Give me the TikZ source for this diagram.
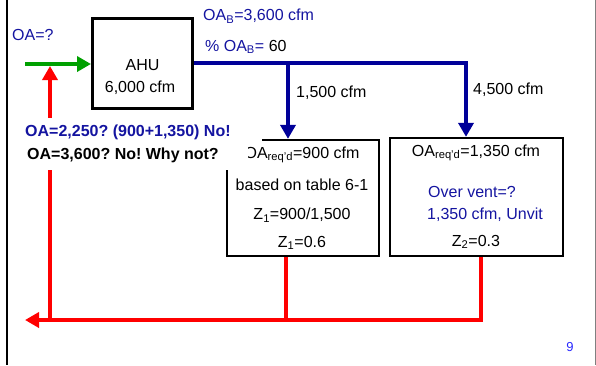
\documentclass[tikz,border=0pt]{standalone}
\usepackage{fontspec}
\setmainfont{Liberation Sans}
\usetikzlibrary{arrows.meta}
\definecolor{dblue}{RGB}{0,0,153}
\definecolor{tblue}{RGB}{20,20,160}
\definecolor{dgreen}{RGB}{0,160,0}
\definecolor{pblue}{RGB}{40,40,255}
\frenchspacing
\begin{document}
\begin{tikzpicture}[x=1pt,y=-1pt,font=\fontsize{16}{19}\selectfont,
  lbl/.style={inner sep=0pt,anchor=west},
  ctr/.style={inner sep=0pt},
  box/.style={draw=black,line width=2.3pt,inner sep=0pt},
  bline/.style={draw=dblue,line width=4.5pt},
  rline/.style={draw=red,line width=4pt},
  gline/.style={draw=dgreen,line width=4pt},
  tip/.style={-{Triangle[length=14pt,width=15pt]}}]
\useasboundingbox (0,0) rectangle (596,365);
% frame
\draw[line width=2pt] (7,0) -- (7,365);
\draw[gray,line width=1pt] (595.5,0) -- (595.5,365);
% coordinates
\coordinate (gs) at (25,64);
\coordinate (bj1) at (288,63);
\coordinate (bj2) at (466,63);
\coordinate (r1) at (286,320);
\coordinate (r2) at (481,320);
\coordinate (rb) at (50,320);
\coordinate (rt) at (50,66);
\coordinate (rl) at (25,320);
% boxes
\node[box,line width=3pt,minimum width=100pt,minimum height=90pt] (ahu) at (142.5,63) {};
\node[box,minimum width=152pt,minimum height=116pt] (box1) at (303,198) {};
\node[box,minimum width=173pt,minimum height=118pt] (box2) at (476.5,197) {};
% red return
\draw[rline] (r1 |- box1.south) -- (r1);
\draw[rline,tip,line join=miter] (r2 |- box2.south) -- (r2) -- (rl);
\draw[rline,tip] (rb) -- (rt);
% green inlet
\draw[gline,tip] (gs) -- (gs -| ahu.west);
% blue supply
\draw[bline,tip,line join=miter] (ahu.east |- bj1) -- (bj2) -- (bj2 |- box2.north);
\draw[bline,tip] (bj1) -- (bj1 |- box1.north);
% AHU text
\node[ctr] (ahut) at (142.5,65) {AHU};
\node[ctr] (ahuc) at (140,88) {6,000 cfm};
% box1 text
\node[ctr] (b1a) at (302,155) {OA\textsubscript{req'd}=900 cfm};
\node[ctr] (b1b) at (302,185) {based on table 6-1};
\node[ctr] (b1c) at (302,215) {Z\textsubscript{1}=900/1,500};
\node[ctr] (b1d) at (302,243) {Z\textsubscript{1}=0.6};
% box2 text
\node[ctr] (b2a) at (476,153) {OA\textsubscript{req'd}=1,350 cfm};
\node[ctr,text=tblue] (b2b) at (472,192) {Over vent=?};
\node[ctr,text=tblue] (b2c) at (485,215) {1,350 cfm, Unvit};
\node[ctr] (b2d) at (476,242) {Z\textsubscript{2}=0.3};
% labels
\node[lbl,text=tblue] (oaq) at (12,35) {OA=?};
\node[lbl,text=tblue] (oab) at (203,16) {OA\textsubscript{B}=3,600 cfm};
\node[lbl] (poab) at (205,47) {{\color{tblue}\% OA\textsubscript{B}=} 60};
\node[lbl] (f1) at (296,93) {1,500 cfm};
\node[lbl] (f2) at (473,90) {4,500 cfm};
% question texts with white background
\fill[white] (22,118) rectangle (262,145);
\fill[white] (22,145) rectangle (248,170);
\node[lbl,text=tblue,font=\fontsize{16}{19}\selectfont\bfseries] (q1) at (25,132) {OA=2,250? (900+1,350) No!};
\node[lbl,font=\fontsize{16}{19}\selectfont\bfseries] (q2) at (27,155) {OA=3,600? No! Why not?};
% page number
\node[ctr,text=pblue,font=\fontsize{13}{15}\selectfont] (pg) at (570,347) {9};
\end{tikzpicture}
\end{document}
